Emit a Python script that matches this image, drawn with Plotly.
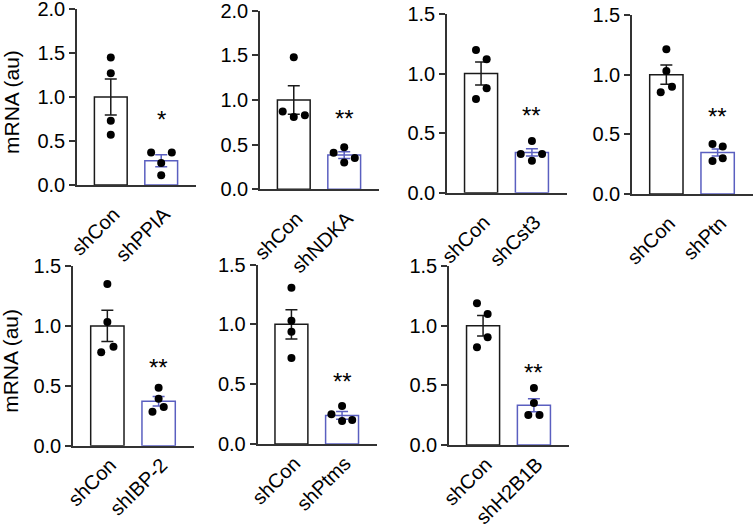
import plotly.graph_objects as go

# ---- data ----
genes = ["shPPIA", "shNDKA", "shCst3", "shPtn", "shIBP-2", "shPtms", "shH2B1B"]
control_label = "shCon"
y_max = [2.0, 2.0, 1.5, 1.5, 1.5, 1.5, 1.5]
y_ticks = [[0.0, 0.5, 1.0, 1.5, 2.0], [0.0, 0.5, 1.0, 1.5, 2.0],
           [0.0, 0.5, 1.0, 1.5], [0.0, 0.5, 1.0, 1.5],
           [0.0, 0.5, 1.0, 1.5], [0.0, 0.5, 1.0, 1.5], [0.0, 0.5, 1.0, 1.5]]

ctrl_mean = [1.0, 1.0, 1.0, 1.0, 1.0, 1.0, 1.0]
ctrl_sem = [0.205, 0.16, 0.097, 0.08, 0.13, 0.122, 0.086]
kd_mean = [0.275, 0.383, 0.338, 0.348, 0.371, 0.239, 0.333]
kd_sem = [0.068, 0.038, 0.03, 0.03, 0.04, 0.032, 0.055]

ctrl_points = [[1.45, 1.27, 0.73, 0.57],
               [1.48, 0.87, 0.81, 0.83],
               [1.198, 1.12, 0.877, 0.787],
               [1.213, 1.031, 0.899, 0.852],
               [1.35, 1.033, 0.826, 0.78],
               [1.306, 1.03, 0.938, 0.718],
               [1.188, 1.098, 0.903, 0.819]]
kd_points = [[0.37, 0.37, 0.25, 0.11],
             [0.41, 0.47, 0.30, 0.35],
             [0.434, 0.325, 0.325, 0.269],
             [0.419, 0.397, 0.277, 0.299],
             [0.484, 0.392, 0.284, 0.323],
             [0.317, 0.248, 0.192, 0.200],
             [0.478, 0.352, 0.251, 0.251]]
significance = ["*", "**", "**", "**", "**", "**", "**"]
sig_y = [0.745, 0.795, 0.652, 0.648, 0.654, 0.52, 0.61]

# ---- layout / style (not data) ----
ctrl_jitter = [[0, 0, 0, 0], [0, -0.22, 0, 0.22], [-0.1, 0.11, 0.11, -0.1],
               [0, 0, 0.11, -0.11], [0, 0, 0.12, -0.12], [0, 0, 0, 0],
               [-0.12, 0.09, 0.09, -0.12]]
kd_jitter = [[-0.2, 0.21, 0, 0], [-0.21, 0, 0, 0.21], [0, -0.22, 0.2, 0],
             [-0.1, 0.1, -0.1, 0.1], [0, 0, -0.12, 0.1], [0, -0.21, 0, 0.2],
             [0, 0, -0.11, 0.11]]

W, H = 753, 526
px_x0 = [77, 260, 447, 632, 73, 257.5, 449]
px_x1 = [196, 379, 567, 753, 194, 377, 569]
px_ybot = [185, 189.3, 192.7, 194, 445.7, 444, 445]
px_ytop = [9, 10.7, 14, 15, 266, 264.5, 266]
label_standoff = [8, 8, 8, 8, -2, -2, -2]

BLUE = "#5a5fc0"
BLACK = "#1a1a1a"
AXIS = "#333333"
FONT = "Liberation Sans, Arial, sans-serif"

fig = go.Figure()
layout = dict(width=W, height=H, autosize=False, margin=dict(l=0, r=0, t=0, b=0, pad=0),
              paper_bgcolor="white", plot_bgcolor="white", showlegend=False,
              font=dict(family=FONT, color="black"))
annotations = []

for i in range(7):
    n = i + 1
    xa = "x" if n == 1 else f"x{n}"
    ya = "y" if n == 1 else f"y{n}"
    fig.add_trace(go.Bar(x=[0], y=[ctrl_mean[i]], width=0.65, xaxis=xa, yaxis=ya,
                         marker=dict(color="white", line=dict(color=BLACK, width=1.5)),
                         error_y=dict(type="data", array=[ctrl_sem[i]], color=BLACK,
                                      thickness=1.5, width=6)))
    fig.add_trace(go.Bar(x=[1], y=[kd_mean[i]], width=0.65, xaxis=xa, yaxis=ya,
                         marker=dict(color="white", line=dict(color=BLUE, width=1.5)),
                         error_y=dict(type="data", array=[kd_sem[i]], color=BLUE,
                                      thickness=1.5, width=6)))
    fig.add_trace(go.Scatter(x=[0 + j for j in ctrl_jitter[i]], y=ctrl_points[i],
                             mode="markers", xaxis=xa, yaxis=ya, cliponaxis=False,
                             marker=dict(color="black", size=8)))
    fig.add_trace(go.Scatter(x=[1 + j for j in kd_jitter[i]], y=kd_points[i],
                             mode="markers", xaxis=xa, yaxis=ya, cliponaxis=False,
                             marker=dict(color="black", size=8)))

    key_x = "xaxis" if n == 1 else f"xaxis{n}"
    key_y = "yaxis" if n == 1 else f"yaxis{n}"
    layout[key_x] = dict(domain=[px_x0[i] / W, min(px_x1[i] / W, 1.0)], range=[-0.67, 1.69],
                         anchor=ya, showgrid=False, zeroline=False, automargin=False,
                         showline=True, linecolor=AXIS, linewidth=1.5,
                         tickvals=[0, 1], ticktext=[control_label, genes[i]],
                         ticks="", tickangle=-45, ticklabeloverflow="allow",
                         ticklabelstandoff=label_standoff[i], ticklabelshift=3,
                         tickfont=dict(size=20, family=FONT, color="black"))
    layout[key_y] = dict(domain=[1 - px_ybot[i] / H, 1 - px_ytop[i] / H],
                         range=[0, y_max[i]], anchor=xa, showgrid=False, automargin=False,
                         zeroline=False, showline=True, linecolor=AXIS, linewidth=1.5,
                         tickvals=y_ticks[i], ticktext=[f"{v:.1f}" for v in y_ticks[i]],
                         ticks="outside", ticklen=6, tickwidth=1.5, tickcolor=AXIS,
                         ticklabeloverflow="allow",
                         tickfont=dict(size=20, family=FONT, color="black"))
    annotations.append(dict(x=1, y=sig_y[i], xref=xa, yref=ya, text=significance[i],
                            showarrow=False, yanchor="middle",
                            font=dict(size=24, family=FONT, color="black")))

for i in (0, 4):
    cy = 1 - ((px_ybot[i] + px_ytop[i]) / 2 + 5) / H
    annotations.append(dict(x=11 / W, y=cy, xref="paper", yref="paper",
                            text="mRNA (au)", textangle=-90, showarrow=False,
                            xanchor="center", yanchor="middle",
                            font=dict(size=21, family=FONT, color="black")))

layout["annotations"] = annotations
fig.update_layout(**layout)
fig.write_html("out.html", config={"displayModeBar": False},
               post_script="document.body.style.margin='0';document.body.style.overflow='hidden';")
